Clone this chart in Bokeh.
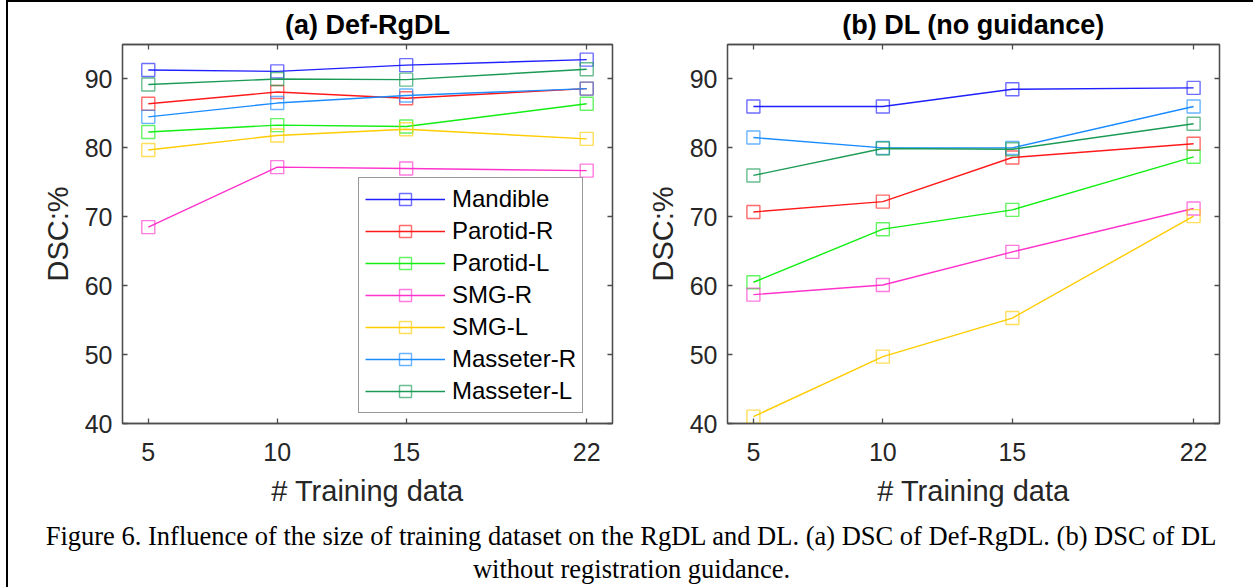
from bokeh.plotting import figure
from bokeh.models import Range1d, FixedTicker, LinearAxis, Legend, LegendItem, Label
from bokeh.layouts import row, column
from bokeh.embed import file_html
from bokeh.resources import INLINE

# ---------------- data ----------------
training = [5, 10, 15, 22]
organs = ["Mandible", "Parotid-R", "Parotid-L", "SMG-R", "SMG-L", "Masseter-R", "Masseter-L"]
colors = ["#1f1fff", "#ff1a1a", "#11ee11", "#ff33cc", "#ffcc00", "#1a8cff", "#1a9a55"]
x_ticks = [5, 10, 15, 22]
y_ticks = [40, 50, 60, 70, 80, 90]

# (a) Def-RgDL
rgdl_mandible = [91.3, 91.1, 92.0, 92.8]
rgdl_parotid_r = [86.4, 88.1, 87.2, 88.6]
rgdl_parotid_l = [82.3, 83.3, 83.1, 86.4]
rgdl_smg_r = [68.5, 77.2, 77.0, 76.7]
rgdl_smg_l = [79.7, 81.8, 82.7, 81.3]
rgdl_masseter_r = [84.5, 86.5, 87.6, 88.6]
rgdl_masseter_l = [89.2, 90.0, 89.9, 91.4]

# (b) DL (no guidance)
dl_mandible = [86.0, 86.0, 88.5, 88.7]
dl_parotid_r = [70.7, 72.2, 78.6, 80.6]
dl_parotid_l = [60.5, 68.2, 71.0, 78.7]
dl_smg_r = [58.7, 60.1, 64.9, 71.2]
dl_smg_l = [41.0, 49.7, 55.3, 70.1]
dl_masseter_r = [81.5, 80.0, 80.0, 86.0]
dl_masseter_l = [76.0, 79.9, 79.8, 83.5]

rgdl = [rgdl_mandible, rgdl_parotid_r, rgdl_parotid_l, rgdl_smg_r,
        rgdl_smg_l, rgdl_masseter_r, rgdl_masseter_l]
dl = [dl_mandible, dl_parotid_r, dl_parotid_l, dl_smg_r,
      dl_smg_l, dl_masseter_r, dl_masseter_l]

FONT = "Liberation Sans"
AX_COL = "#4d4d4d"
TXT_COL = "#262626"


def style_axis(ax, labels=True):
    ax.axis_line_color = AX_COL
    ax.axis_line_width = 1.3
    ax.major_tick_line_color = AX_COL
    ax.major_tick_line_width = 1.3
    ax.major_tick_in = 5
    ax.major_tick_out = 0
    ax.minor_tick_line_color = None
    ax.major_label_text_font = FONT
    if labels:
        ax.major_label_text_color = TXT_COL
        ax.major_label_text_font_size = "25px"
    else:
        # mirrored tick marks only: labels are not drawn
        ax.major_label_text_color = None
        ax.major_label_text_font_size = "1px"
        ax.major_label_standoff = 0


def make_panel(title, series, with_legend, mb_left, fw, mb_right):
    p = figure(width=mb_left + fw + mb_right, height=508,
               frame_width=fw, frame_height=379,
               min_border_left=mb_left, min_border_right=mb_right,
               min_border_top=42, min_border_bottom=87,
               x_range=Range1d(4, 23), y_range=Range1d(40, 95),
               output_backend="svg", toolbar_location=None,
               title=title)
    p.title.text_font = FONT
    p.title.text_font_size = "27px"
    p.title.text_font_style = "bold"
    p.title.text_color = "#000000"
    p.title.align = "center"
    p.title.offset = 0
    p.title.standoff = 9
    p.grid.visible = False
    p.outline_line_color = AX_COL
    p.outline_line_width = 1.3
    p.background_fill_color = "white"
    p.border_fill_color = "white"

    p.xaxis.ticker = FixedTicker(ticks=x_ticks)
    p.yaxis.ticker = FixedTicker(ticks=y_ticks)
    for ax in p.xaxis + p.yaxis:
        style_axis(ax)
        ax.axis_label_text_font = FONT
        ax.axis_label_text_font_size = "29px"
        ax.axis_label_text_font_style = "normal"
        ax.axis_label_text_color = TXT_COL
    p.xaxis.axis_label = "# Training data"
    p.yaxis.axis_label = "DSC:%"
    p.xaxis.major_label_standoff = 19
    p.xaxis.axis_label_standoff = 11
    p.yaxis.major_label_standoff = 10
    p.yaxis.axis_label_standoff = 8

    top = LinearAxis(ticker=FixedTicker(ticks=x_ticks))
    style_axis(top, labels=False)
    p.add_layout(top, "above")
    right = LinearAxis(ticker=FixedTicker(ticks=y_ticks))
    style_axis(right, labels=False)
    p.add_layout(right, "right")

    items = []
    for name, col, vals in zip(organs, colors, series):
        ln = p.line(training, vals, line_color=col, line_width=1.4)
        mk = p.scatter(training, vals, marker="square", size=13,
                       fill_color=None, line_color=col, line_alpha=0.65,
                       line_width=1.4)
        items.append(LegendItem(label=name, renderers=[ln, mk]))

    if with_legend:
        lg = Legend(items=items, location=(236, 10),
                    label_text_font=FONT, label_text_font_size="24px",
                    label_text_color="#000000",
                    glyph_width=80, glyph_height=30, label_height=30,
                    label_standoff=7, spacing=2, padding=6, margin=0,
                    border_line_color="#333333", border_line_width=1.2,
                    background_fill_color="white", background_fill_alpha=1.0)
        p.add_layout(lg, "center")
    return p


p1 = make_panel("(a) Def-RgDL", rgdl, True, 114, 490, 28)
p2 = make_panel("(b) DL (no guidance)", dl, False, 87, 492, 34)

cap = figure(width=1245, height=77, x_range=Range1d(0, 1), y_range=Range1d(0, 1),
             output_backend="svg", toolbar_location=None,
             x_axis_type=None, y_axis_type=None,
             min_border=0, min_border_left=0, min_border_right=0,
             min_border_top=0, min_border_bottom=0)
cap.outline_line_color = None
cap.grid.visible = False
caption_line1 = ("Figure 6. Influence of the size of training dataset on the RgDL and DL. "
                 "(a) DSC of Def-RgDL. (b) DSC of DL")
caption_line2 = "without registration guidance."
for txt, yy in [(caption_line1, 52), (caption_line2, 19)]:
    cap.add_layout(Label(x=623, y=yy, x_units="screen", y_units="screen", text=txt,
                         text_align="center", text_baseline="middle",
                         text_font="Liberation Serif", text_font_size="26.5px",
                         text_color="#000000"))

layout = column(row(p1, p2), cap,
                styles={"margin-left": "6px", "border-left": "2px solid black",
                        "border-top": "2px solid black"})

open("out.html", "w").write(file_html(layout, INLINE))
